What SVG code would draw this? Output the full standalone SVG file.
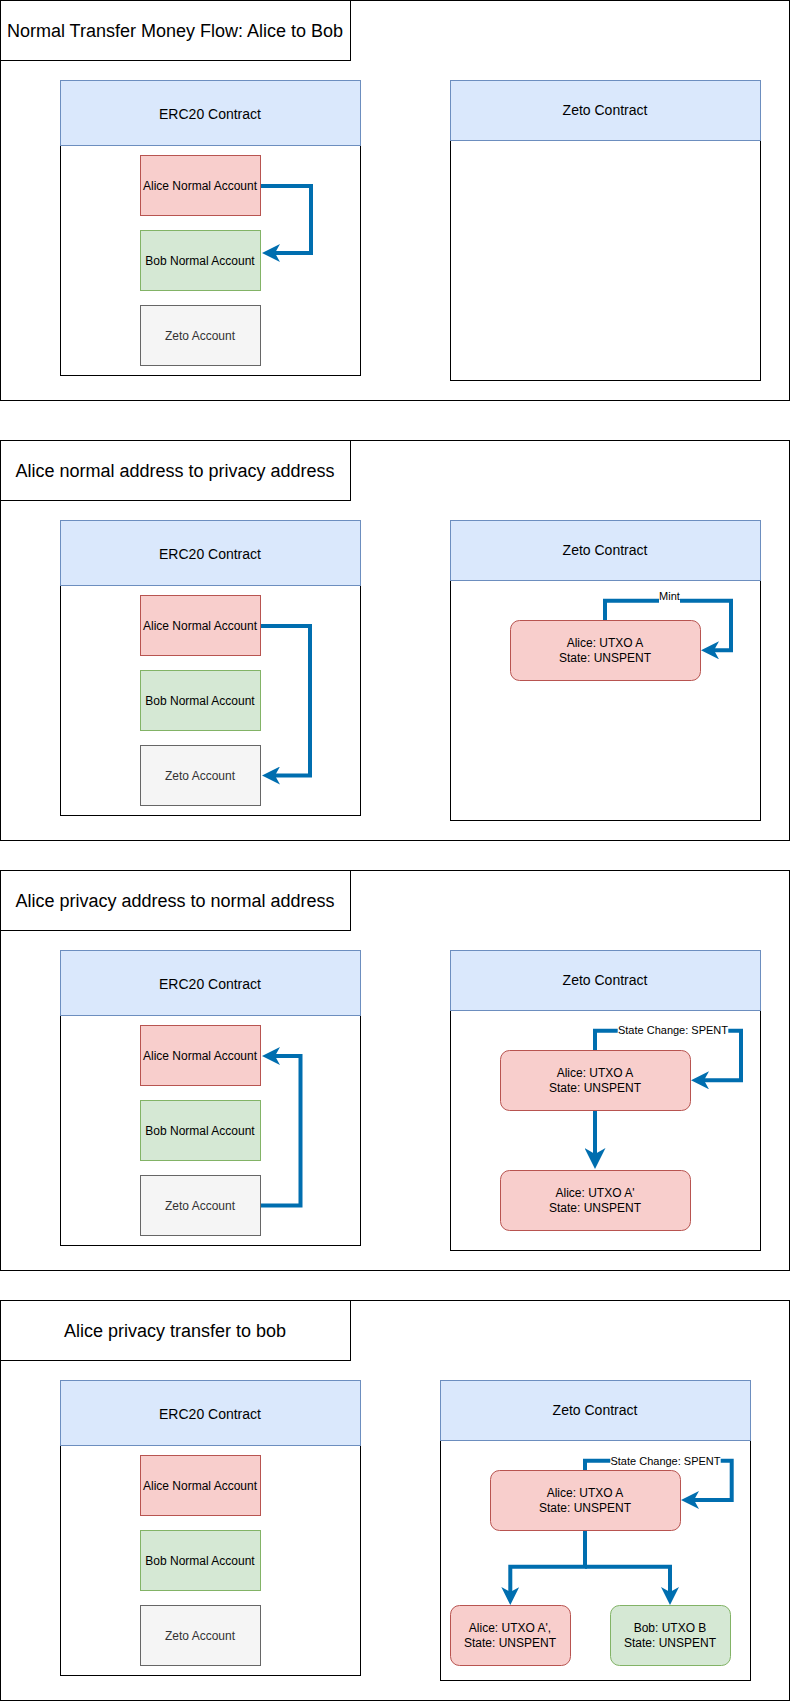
<svg xmlns="http://www.w3.org/2000/svg" width="791" height="1701" viewBox="0 0 791 1701">
<defs>
<style>
text{font-family:"Liberation Sans",Arial,Helvetica,sans-serif;fill:#000;text-anchor:middle}
.frame{fill:#fff;stroke:#000;stroke-width:1}
.title{font-size:18px}
.hdr{fill:#dae8fc;stroke:#6c8ebf;stroke-width:1}
.body{fill:#fff;stroke:#000;stroke-width:1}
.ctitle{font-size:14px}
.red{fill:#f8cecc;stroke:#b85450;stroke-width:1}
.green{fill:#d5e8d4;stroke:#82b366;stroke-width:1}
.gray{fill:#f5f5f5;stroke:#666;stroke-width:1}
.acc{font-size:12px}
.gtxt{fill:#333}
.utxo{font-size:12px}
.edge{fill:none;stroke:#006eaf;stroke-width:4;stroke-linejoin:miter}
.lbl{font-size:11px}
.lblbg{fill:#fff}
</style>
<marker id="arr" markerUnits="userSpaceOnUse" viewBox="0 -9 18 18" markerWidth="18" markerHeight="18" refX="5" refY="0" orient="auto">
<path d="M0,-9 L18,0 L0,9 L5,0 Z" fill="#006eaf"/>
</marker>
<marker id="arrL" markerUnits="userSpaceOnUse" viewBox="0 -10.5 21 21" markerWidth="21" markerHeight="21" refX="6" refY="0" orient="auto">
<path d="M0,-10.5 L21,0 L0,10.5 L6,0 Z" fill="#006eaf"/>
</marker>
</defs>

<!-- Section 1 -->
<g id="sec1">
<rect class="frame" x="0.5" y="0.5" width="789" height="400"/>
<g id="sec1-title"><rect class="frame" x="0.5" y="0.5" width="350" height="60"/><text class="title" x="175" y="36.7">Normal Transfer Money Flow: Alice to Bob</text></g>
<g id="sec1-erc20"><rect class="body" x="60.5" y="145.5" width="300" height="230"/><rect class="hdr" x="60.5" y="80.5" width="300" height="65"/><text class="ctitle" x="210" y="118.5">ERC20 Contract</text></g>
<g id="sec1-alice"><rect class="red" x="140.5" y="155.5" width="120" height="60"/><text class="acc" x="200" y="189.5">Alice Normal Account</text></g>
<g id="sec1-bob"><rect class="green" x="140.5" y="230.5" width="120" height="60"/><text class="acc" x="200" y="264.5">Bob Normal Account</text></g>
<g id="sec1-zetoacc"><rect class="gray" x="140.5" y="305.5" width="120" height="60"/><text class="acc gtxt" x="200" y="339.5">Zeto Account</text></g>
<g id="sec1-zeto"><rect class="body" x="450.5" y="140.5" width="310" height="240"/><rect class="hdr" x="450.5" y="80.5" width="310" height="60"/><text class="ctitle" x="605" y="115">Zeto Contract</text></g>
</g>

<!-- Section 2 -->
<g id="sec2">
<rect class="frame" x="0.5" y="440.5" width="789" height="400"/>
<g id="sec2-title"><rect class="frame" x="0.5" y="440.5" width="350" height="60"/><text class="title" x="175" y="476.7">Alice normal address to privacy address</text></g>
<g id="sec2-erc20"><rect class="body" x="60.5" y="585.5" width="300" height="230"/><rect class="hdr" x="60.5" y="520.5" width="300" height="65"/><text class="ctitle" x="210" y="558.5">ERC20 Contract</text></g>
<g id="sec2-alice"><rect class="red" x="140.5" y="595.5" width="120" height="60"/><text class="acc" x="200" y="629.5">Alice Normal Account</text></g>
<g id="sec2-bob"><rect class="green" x="140.5" y="670.5" width="120" height="60"/><text class="acc" x="200" y="704.5">Bob Normal Account</text></g>
<g id="sec2-zetoacc"><rect class="gray" x="140.5" y="745.5" width="120" height="60"/><text class="acc gtxt" x="200" y="779.5">Zeto Account</text></g>
<g id="sec2-zeto"><rect class="body" x="450.5" y="580.5" width="310" height="240"/><rect class="hdr" x="450.5" y="520.5" width="310" height="60"/><text class="ctitle" x="605" y="555">Zeto Contract</text></g>
<g id="sec2-utxoA"><rect class="red" x="510.5" y="620.5" width="190" height="60" rx="9"/><text class="utxo" x="605" y="647">Alice: UTXO A</text><text class="utxo" x="605" y="661.5">State: UNSPENT</text></g>
</g>

<!-- Section 3 -->
<g id="sec3">
<rect class="frame" x="0.5" y="870.5" width="789" height="400"/>
<g id="sec3-title"><rect class="frame" x="0.5" y="870.5" width="350" height="60"/><text class="title" x="175" y="906.7">Alice privacy address to normal address</text></g>
<g id="sec3-erc20"><rect class="body" x="60.5" y="1015.5" width="300" height="230"/><rect class="hdr" x="60.5" y="950.5" width="300" height="65"/><text class="ctitle" x="210" y="988.5">ERC20 Contract</text></g>
<g id="sec3-alice"><rect class="red" x="140.5" y="1025.5" width="120" height="60"/><text class="acc" x="200" y="1059.5">Alice Normal Account</text></g>
<g id="sec3-bob"><rect class="green" x="140.5" y="1100.5" width="120" height="60"/><text class="acc" x="200" y="1134.5">Bob Normal Account</text></g>
<g id="sec3-zetoacc"><rect class="gray" x="140.5" y="1175.5" width="120" height="60"/><text class="acc gtxt" x="200" y="1209.5">Zeto Account</text></g>
<g id="sec3-zeto"><rect class="body" x="450.5" y="1010.5" width="310" height="240"/><rect class="hdr" x="450.5" y="950.5" width="310" height="60"/><text class="ctitle" x="605" y="985">Zeto Contract</text></g>
<g id="sec3-utxoA"><rect class="red" x="500.5" y="1050.5" width="190" height="60" rx="9"/><text class="utxo" x="595" y="1077">Alice: UTXO A</text><text class="utxo" x="595" y="1091.5">State: UNSPENT</text></g>
<g id="sec3-utxoA2"><rect class="red" x="500.5" y="1170.5" width="190" height="60" rx="9"/><text class="utxo" x="595" y="1197">Alice: UTXO A'</text><text class="utxo" x="595" y="1211.5">State: UNSPENT</text></g>
</g>

<!-- Section 4 -->
<g id="sec4">
<rect class="frame" x="0.5" y="1300.5" width="789" height="400"/>
<g id="sec4-title"><rect class="frame" x="0.5" y="1300.5" width="350" height="60"/><text class="title" x="175" y="1336.7">Alice privacy transfer to bob</text></g>
<g id="sec4-erc20"><rect class="body" x="60.5" y="1445.5" width="300" height="230"/><rect class="hdr" x="60.5" y="1380.5" width="300" height="65"/><text class="ctitle" x="210" y="1418.5">ERC20 Contract</text></g>
<g id="sec4-alice"><rect class="red" x="140.5" y="1455.5" width="120" height="60"/><text class="acc" x="200" y="1489.5">Alice Normal Account</text></g>
<g id="sec4-bob"><rect class="green" x="140.5" y="1530.5" width="120" height="60"/><text class="acc" x="200" y="1564.5">Bob Normal Account</text></g>
<g id="sec4-zetoacc"><rect class="gray" x="140.5" y="1605.5" width="120" height="60"/><text class="acc gtxt" x="200" y="1639.5">Zeto Account</text></g>
<g id="sec4-zeto"><rect class="body" x="440.5" y="1440.5" width="310" height="240"/><rect class="hdr" x="440.5" y="1380.5" width="310" height="60"/><text class="ctitle" x="595" y="1415">Zeto Contract</text></g>
<g id="sec4-utxoA"><rect class="red" x="490.5" y="1470.5" width="190" height="60" rx="9"/><text class="utxo" x="585" y="1497">Alice: UTXO A</text><text class="utxo" x="585" y="1511.5">State: UNSPENT</text></g>
<g id="sec4-utxoA2"><rect class="red" x="450.5" y="1605.5" width="120" height="60" rx="9"/><text class="utxo" x="510" y="1632">Alice: UTXO A',</text><text class="utxo" x="510" y="1646.5">State: UNSPENT</text></g>
<g id="sec4-utxoB"><rect class="green" x="610.5" y="1605.5" width="120" height="60" rx="9"/><text class="utxo" x="670" y="1632">Bob: UTXO B</text><text class="utxo" x="670" y="1646.5">State: UNSPENT</text></g>
</g>

<!-- Connectors -->
<g id="connectors">
<path class="edge" d="M261,186 H311 V253 H275" marker-end="url(#arr)"/>
<path class="edge" d="M261,626 H310 V775.5 H275" marker-end="url(#arr)"/>
<path class="edge" d="M605,620 V600.7 H731 V650.3 H714" marker-end="url(#arr)"/>
<path class="edge" d="M261,1205.5 H300.5 V1056 H275" marker-end="url(#arr)"/>
<path class="edge" d="M595,1050 V1030.7 H741 V1080.3 H704" marker-end="url(#arr)"/>
<path class="edge" d="M595,1111 V1154" marker-end="url(#arrL)"/>
<path class="edge" d="M585,1470 V1460.7 H731.7 V1500 H694" marker-end="url(#arr)"/>
<path class="edge" d="M585,1531 V1566.7 H510.3 V1592" marker-end="url(#arr)"/>
<path class="edge" d="M585,1566.7 H670 V1592" marker-end="url(#arr)"/>
<g id="labels">
<rect class="lblbg" x="659" y="592" width="21" height="12"/><text class="lbl" x="669.5" y="600">Mint</text>
<rect class="lblbg" x="617.7" y="1024" width="110.6" height="12"/><text class="lbl" x="673" y="1034">State Change: SPENT</text>
<rect class="lblbg" x="610.3" y="1454.5" width="110.4" height="12"/><text class="lbl" x="665.5" y="1464.5">State Change: SPENT</text>
</g>
</g>
</svg>
